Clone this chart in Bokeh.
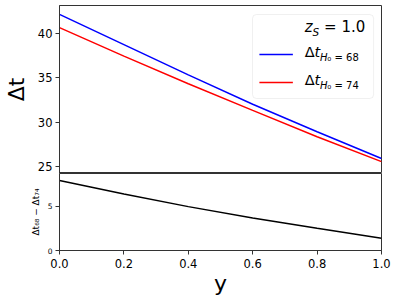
from bokeh.plotting import figure
from bokeh.layouts import column
from bokeh.models import (Range1d, FixedTicker, Label, BoxAnnotation,
                          NumeralTickFormatter)
from bokeh.embed import file_html
from bokeh.resources import INLINE

# ---------------- data ----------------
y_values = [0.0, 0.2, 0.4, 0.6, 0.8, 1.0]
dt_h0_68 = [42.1, 38.7, 35.3, 32.0, 28.9, 25.9]
dt_h0_74 = [40.6, 37.4, 34.3, 31.3, 28.35, 25.55]
dt_diff = [7.87, 6.35, 4.93, 3.64, 2.5, 1.38]
top_yticks = [25, 30, 35, 40]
bottom_yticks = [0, 5]
x_ticks = [0.0, 0.2, 0.4, 0.6, 0.8, 1.0]
z_source = "1.0"
h0_values = ["68", "74"]
series_colors = ["blue", "red"]

FONT = "DejaVu Sans"
SPINE = "#333333"

# ---------------- layout ----------------
W = 398
LEFT, RIGHT = 54, 17
FRAME_W = W - LEFT - RIGHT
PX = 8.9                          # pixels per data unit (both panels)
TOP_BORDER, TOP_FRAME = 5, 168
BOT_FRAME, BOT_BORDER = 77, 51
top_lo = 25 - 7 / PX
top_hi = top_lo + TOP_FRAME / PX
bot_hi = BOT_FRAME / PX


def style_axis(ax, size):
    ax.axis_line_color = SPINE
    ax.major_tick_line_color = SPINE
    ax.major_tick_in = 0
    ax.major_tick_out = 4
    ax.minor_tick_line_color = None
    ax.major_label_text_font = FONT
    ax.major_label_text_font_size = size
    ax.major_label_text_color = "black"
    ax.axis_label_text_font = FONT
    ax.axis_label_text_font_style = "normal"
    ax.axis_label_text_color = "black"


# ---------------- upper panel ----------------
p1 = figure(width=W, height=TOP_BORDER + TOP_FRAME, output_backend="svg",
            toolbar_location=None, x_axis_location=None,
            x_range=Range1d(0, 1), y_range=Range1d(top_lo, top_hi),
            min_border_left=LEFT, min_border_right=RIGHT,
            min_border_top=TOP_BORDER, min_border_bottom=0)
p1.title.visible = False
p1.grid.visible = False
p1.outline_line_color = SPINE
style_axis(p1.yaxis[0], "11.5px")
p1.yaxis.ticker = FixedTicker(ticks=top_yticks)
p1.yaxis.major_label_standoff = 3
p1.yaxis.axis_label = "Δt"
p1.yaxis.axis_label_text_font_size = "22px"
p1.yaxis.axis_label_standoff = 6

p1.line(y_values, dt_h0_68, line_color=series_colors[0], line_width=1.5)
p1.line(y_values, dt_h0_74, line_color=series_colors[1], line_width=1.5)


def px_x(px):
    return (px - LEFT) / FRAME_W


def px_y(py):
    return 25 + (166 - py) / PX


def txt(x, y, s, size, style="normal", align="left"):
    p1.add_layout(Label(x=px_x(x), y=px_y(y), text=s, text_font=FONT,
                        text_font_style=style, text_font_size=size,
                        text_align=align, text_color="black"))


# legend
p1.add_layout(BoxAnnotation(left=px_x(250), right=px_x(373), top=px_y(14),
                            bottom=px_y(98), fill_color="white", fill_alpha=0.8,
                            line_color="#cccccc", line_width=1, border_radius=4,
                            level="underlay"))
txt(303, 35, "z", "15px", "italic")
txt(311, 37.5, "S", "10.5px", "italic")
txt(364.5, 35, "= " + z_source, "15px", align="right")

entry_base = [59, 87]
for yb, col, h0 in zip(entry_base, series_colors, h0_values):
    p1.segment(x0=[px_x(257)], x1=[px_x(291)], y0=[px_y(yb - 5)],
               y1=[px_y(yb - 5)], line_color=col, line_width=1.5)
    txt(303, yb, "Δ", "14.5px")
    txt(313, yb, "t", "14.5px", "italic")
    txt(318.5, yb + 3, "H", "10px", "italic")
    txt(326, yb + 3, "₀ = " + h0, "10px")

# ---------------- lower panel ----------------
p2 = figure(width=W, height=BOT_FRAME + BOT_BORDER, output_backend="svg",
            toolbar_location=None,
            x_range=Range1d(0, 1), y_range=Range1d(0, bot_hi),
            min_border_left=LEFT, min_border_right=RIGHT,
            min_border_top=0, min_border_bottom=BOT_BORDER)
p2.title.visible = False
p2.grid.visible = False
p2.outline_line_color = SPINE
style_axis(p2.yaxis[0], "7.5px")
style_axis(p2.xaxis[0], "11.5px")
p2.yaxis.ticker = FixedTicker(ticks=bottom_yticks)
p2.yaxis.major_label_standoff = 3
p2.yaxis.axis_label = "Δt₆₈ − Δt₇₄"
p2.yaxis.axis_label_text_font_size = "9px"
p2.yaxis.axis_label_standoff = 4

p2.xaxis.ticker = FixedTicker(ticks=x_ticks)
p2.xaxis.formatter = NumeralTickFormatter(format="0.0")
p2.xaxis.major_label_standoff = 4
p2.xaxis.axis_label = "y"
p2.xaxis.axis_label_text_font_size = "22px"
p2.xaxis.axis_label_standoff = 0

p2.line(y_values, dt_diff, line_color="black", line_width=1.5)

layout = column(p1, p2, spacing=0)
open("out.html", "w").write(file_html(layout, INLINE))
